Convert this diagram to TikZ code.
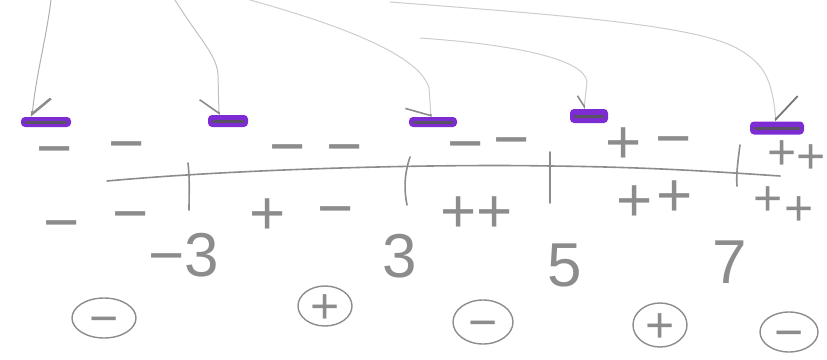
\documentclass[tikz,border=0pt]{standalone}
\usepackage{fontspec}
\newfontfamily\handfont{Liberation Sans}
\usetikzlibrary{shapes.geometric,arrows.meta}
\definecolor{pencil}{RGB}{140,140,140}
\definecolor{faint}{RGB}{205,205,205}
\definecolor{barpurple}{RGB}{124,44,210}
\definecolor{bardark}{RGB}{88,82,98}
\begin{document}
\begin{tikzpicture}[x=1pt,y=-1pt,
  pencilline/.style={draw=pencil,line width=1.6pt,line cap=round},
  sign/.style={text=pencil,font=\handfont\fontsize{62}{62}\selectfont,inner sep=0pt,text height=43pt,text depth=0pt},
  smallsign/.style={sign,font=\handfont\fontsize{50}{50}\selectfont,text height=35pt},
  numlabel/.style={text=pencil,font=\handfont\fontsize{62}{62}\selectfont,inner sep=0pt},
  circsign/.style={ellipse,draw=pencil,line width=1.4pt,inner sep=0pt},
  circtext/.style={text=pencil,font=\handfont\fontsize{50}{50}\selectfont,inner sep=0pt,text height=35pt,text depth=0pt},
  bar/.style={rectangle,rounded corners=4pt,fill=barpurple,inner sep=0pt,
    path picture={\draw[bardark,line width=3pt,line cap=round] ([xshift=5pt]path picture bounding box.west) -- ([xshift=-5pt]path picture bounding box.east);}},
  pointer/.style={draw=faint,line width=1pt,line cap=round}
]
\useasboundingbox (0,0) rectangle (827,359);

% number line and ticks
\draw[pencilline] (107,181) .. controls (250,168) and (450,164) .. (550,166) .. controls (650,167) and (720,172) .. (780,176);
\draw[pencilline] (188,163) .. controls (190,180) and (189,195) .. (189,210);
\draw[pencilline] (410,157) .. controls (404,175) and (404,190) .. (407,205);
\draw[pencilline] (550,152) -- (550,203);
\draw[pencilline] (740,145) .. controls (738,160) and (736,175) .. (737,186);

% purple marks
\node[bar,minimum width=50pt,minimum height=10pt] (b1) at (46,122) {};
\node[bar,minimum width=40pt,minimum height=12pt] (b2) at (228,121) {};
\node[bar,minimum width=48pt,minimum height=10pt] (b3) at (433,122) {};
\node[bar,minimum width=38pt,minimum height=14pt] (b4) at (589,116) {};
\node[bar,minimum width=54pt,minimum height=13pt] (b5) at (777,128) {};

% pointers
\coordinate (s1) at (51,0);
\coordinate (s2) at (175,0);
\coordinate (s3) at (250,0);
\coordinate (s4) at (420,38);
\coordinate (s5) at (390,2);
\draw[pointer,draw=pencil!70,-{Straight Barb[harpoon,length=17pt,width=34pt,line width=2.5pt,color=pencil]}]
  (s1) .. controls (46,40) and (36,75) .. ([xshift=-14pt]b1.north);
\draw[pointer,draw=pencil!55,-{Straight Barb[harpoon,swap,length=14pt,width=38pt,line width=1.6pt,color=pencil]}]
  (s2) .. controls (200,40) and (217,55) .. (218,75) -- ([xshift=-9pt]b2.north);
\draw[pointer,-{Straight Barb[harpoon,swap,length=9pt,width=50pt,line width=1.6pt,color=pencil]}]
  (s3) .. controls (340,25) and (420,55) .. (429,88) -- ([xshift=-2pt]b3.north);
\draw[pointer,-{Straight Barb[harpoon,swap,length=10pt,width=16pt,line width=1.6pt,color=pencil]}]
  (s4) .. controls (520,45) and (585,60) .. (587,82) -- ([xshift=-5pt]b4.north);
\draw[pointer,-{Straight Barb[harpoon,length=21pt,width=48pt,line width=1.8pt,color=pencil!85!black]}]
  (s5) .. controls (560,15) and (700,25) .. (740,50) .. controls (765,65) and (772,80) .. ([xshift=-1pt]b5.north);

% signs above the line
\node[sign] (a1) at (55,148) {−};
\node[sign] (a2) at (127,143) {−};
\node[sign] (a3) at (288,146) {−};
\node[sign] (a4) at (345,146) {−};
\node[sign] (a5) at (466,143) {−};
\node[sign] (a6) at (512,139) {−};
\node[sign] (a7) at (624,142) {+};
\node[sign] (a8) at (674,138) {−};
\node[smallsign] (a9) at (782,152) {+};
\node[smallsign] (a10) at (811,156) {+};

% signs below the line
\node[sign] (c1) at (62,222) {−};
\node[sign] (c2) at (131,213) {−};
\node[sign] (c3) at (268,213) {+};
\node[sign] (c4) at (336,208) {−};
\node[sign] (c5) at (459,211) {+};
\node[sign] (c6) at (495,211) {+};
\node[sign] (c7) at (635,200) {+};
\node[sign] (c8) at (675,195) {+};
\node[smallsign] (c9) at (768,198) {+};
\node[smallsign] (c10) at (799,208) {+};

% critical values
\node[numlabel] (n1) at (184,255) {−3};
\node[numlabel] (n2) at (400,256) {3};
\node[numlabel] (n3) at (565,265) {5};
\node[numlabel] (n4) at (730,262) {7};

% interval results
\node[circsign,minimum width=64pt,minimum height=40pt,label={[circtext]center:−}] (r1) at (104,318) {};
\node[circsign,minimum width=54pt,minimum height=40pt,label={[circtext]center:+}] (r2) at (325,306) {};
\node[circsign,minimum width=60pt,minimum height=44pt,label={[circtext]center:−}] (r3) at (483,322) {};
\node[circsign,minimum width=54pt,minimum height=44pt,label={[circtext]center:+}] (r4) at (660,325) {};
\node[circsign,minimum width=58pt,minimum height=40pt,label={[circtext]center:−}] (r5) at (789,332) {};
\end{tikzpicture}
\end{document}
